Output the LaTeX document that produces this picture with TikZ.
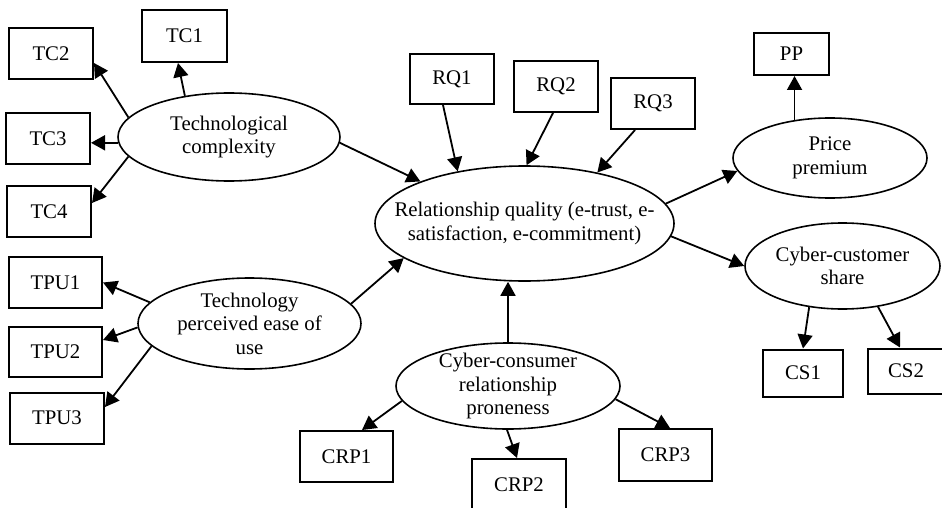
\documentclass[tikz,border=0pt]{standalone}
\usepackage{fontspec}
\setmainfont{Liberation Serif}
\usetikzlibrary{shapes.geometric,arrows.meta,calc}
\begin{document}
\begin{tikzpicture}[x=1pt,y=-1pt,
  every node/.style={font=\fontsize{20.8}{23.5}\selectfont, inner sep=0pt, align=center},
  box/.style={draw, line width=2pt, minimum width=84pt, minimum height=51pt},
  lat/.style={draw, ellipse, line width=1.6pt},
  arr/.style={line width=1.8pt, -{Triangle[length=14pt,width=15pt]}}
]
\useasboundingbox (0,0) rectangle (942,508);
\clip (0,0) rectangle (942,508);

% indicator boxes
\node[box, minimum width=85pt, minimum height=52pt] (tc1) at (184.5,36) {TC1};
\node[box] (tc2) at (51,53.5) {TC2};
\node[box] (tc3) at (48,138.5) {TC3};
\node[box] (tc4) at (49,211.5) {TC4};
\node[box, minimum width=93pt] (tpu1) at (55.5,282.5) {TPU1};
\node[box, minimum width=93pt, minimum height=50pt] (tpu2) at (55.5,352) {TPU2};
\node[box, minimum width=94pt] (tpu3) at (57,418) {TPU3};
\node[box, minimum height=50pt] (rq1) at (452,79) {RQ1};
\node[box] (rq2) at (556,86.5) {RQ2};
\node[box] (rq3) at (653,103.5) {RQ3};
\node[box, minimum width=75pt, minimum height=42pt] (pp) at (791.5,54) {PP};
\node[box, minimum width=80pt, minimum height=47pt] (cs1) at (803,373) {CS1};
\node[box, minimum width=76pt, minimum height=45pt] (cs2) at (906,371) {CS2};
\node[box, minimum width=93pt] (crp1) at (346.5,456.5) {CRP1};
\node[box, minimum width=94pt] (crp2) at (519,484.5) {CRP2};
\node[box, minimum width=93pt, minimum height=52pt] (crp3) at (665.5,455) {CRP3};

% latent variables
\node[lat, minimum width=222pt, minimum height=88pt,
  label={center:Technological\\complexity}] (tc) at (229,137) {};
\node[lat, minimum width=223pt, minimum height=91pt,
  label={center:Technology\\perceived ease of\\use}] (tp) at (249.5,323.5) {};
\node[lat, minimum width=299pt, minimum height=115pt,
  label={center:Relationship quality (e-trust, e-\\satisfaction, e-commitment)}] (rq) at (524.5,223.5) {};
\node[lat, minimum width=194pt, minimum height=80pt,
  label={center:Price\\premium}] (ppe) at (830,158) {};
\node[lat, minimum width=195pt, minimum height=86pt,
  label={center:Cyber-customer\\share}] (ccs) at (842.5,266) {};
\node[lat, minimum width=224pt, minimum height=86pt,
  label={center:Cyber-consumer\\relationship\\proneness}] (ccrp) at (508,386) {};

% connectors
\draw[arr] (tc.137) -- ([xshift=-6.5pt]tc1.south);
\draw[arr] (tc.169) -- ([yshift=-9.5pt]tc2.east);
\draw[arr] (tc.183) -- (tc.183 -| tc3.east);
\draw[arr] (tc.191) -- ([yshift=8.5pt]tc4.east);
\draw[arr] (tc.-3) -- (rq.158);
\draw[arr] (tp.168) -- (tpu1.east);
\draw[arr] (tp.182) -- ([yshift=12pt]tpu2.east);
\draw[arr] (tp.193) -- ([yshift=11pt]tpu3.east);
\draw[arr] (tp.11) -- (rq.196);
\draw[arr] ([xshift=-9pt]rq1.south) -- (rq.142);
\draw[arr] ([xshift=-3pt]rq2.south) -- (rq.88);
\draw[arr] ([xshift=-18pt]rq3.south) -- (rq.35);
\draw[arr] (rq.8) -- (ppe.188);
\draw[arr] (ppe.133) -- (ppe.133 |- pp.south);
\draw[arr] (rq.-5) -- (ccs.180);
\draw[arr] (ccs.231) -- (cs1.north);
\draw[arr] (ccs.-49) -- ([xshift=-6pt]cs2.north);
\draw[arr] (ccrp.north) -- (ccrp.north |- rq.south);
\draw[arr] (ccrp.188) -- ([xshift=15.5pt]crp1.north);
\draw[arr] ([xshift=-1pt]ccrp.south) -- ([xshift=-2pt]crp2.north);
\draw[arr] (ccrp.-7) -- ([xshift=4.5pt]crp3.north);
\end{tikzpicture}
\end{document}
